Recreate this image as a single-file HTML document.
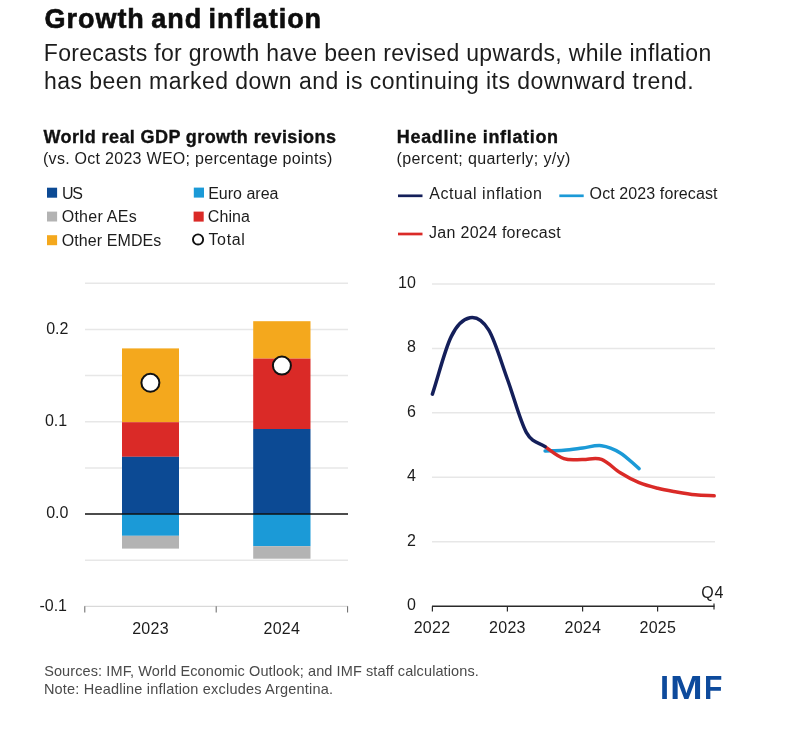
<!DOCTYPE html>
<html lang="en">
<head>
<meta charset="utf-8">
<title>Growth and inflation</title>
<style>
html,body{margin:0;padding:0;background:#fff}
body{width:801px;height:730px;position:relative;overflow:hidden;font-family:"Liberation Sans",sans-serif;color:#1c1c1c}
.t{position:absolute;white-space:nowrap;margin:0;padding:0;line-height:1;font-weight:400}
.ttl{font-weight:700;color:#0d0d0d;-webkit-text-stroke:0.6px #0d0d0d}
.h2{font-weight:700;color:#111;-webkit-text-stroke:0.35px #111}
.foot{color:#4a4a4a}
.logo{font-weight:700;color:#0d4a9c}
.logo span{position:absolute;top:0;display:block;transform-origin:0 0}
svg{position:absolute;left:0;top:0}
svg text{font-family:"Liberation Sans",sans-serif;font-size:16px;fill:#1c1c1c}
</style>
</head>
<body>
<main>
<header>
<h1 class="t ttl" style="left:44.6px;top:5.64px;font-size:27px;letter-spacing:0.95px;word-spacing:-2px">Growth and inflation</h1>
<p class="t sub" style="left:43.8px;top:42.03px;font-size:23px;letter-spacing:0.31px">Forecasts for growth have been revised upwards, while inflation</p>
<p class="t sub" style="left:44px;top:70.03px;font-size:23px;letter-spacing:0.45px">has been marked down and is continuing its downward trend.</p>
</header>

<section>
<h2 class="t h2" style="left:43.5px;top:127.86px;font-size:18px;letter-spacing:0.4px">World real GDP growth revisions</h2>
<p class="t unit" style="left:43px;top:150.66px;font-size:16px;letter-spacing:0.28px">(vs. Oct 2023 WEO; percentage points)</p>
<span class="t lg" style="left:62.0px;top:185.56px;font-size:16px;letter-spacing:-1.2px">US</span>
<span class="t lg" style="left:61.7px;top:209.16px;font-size:16px;letter-spacing:0.26px">Other AEs</span>
<span class="t lg" style="left:61.7px;top:232.96px;font-size:16px;letter-spacing:0.1px">Other EMDEs</span>
<span class="t lg" style="left:208.2px;top:185.56px;font-size:16px;letter-spacing:0px">Euro area</span>
<span class="t lg" style="left:207.8px;top:209.16px;font-size:16px;letter-spacing:0.1px">China</span>
<span class="t lg" style="left:208.4px;top:231.76px;font-size:16px;letter-spacing:0.67px">Total</span>
</section>

<section>
<h2 class="t h2" style="left:396.8px;top:127.86px;font-size:18px;letter-spacing:0.66px">Headline inflation</h2>
<p class="t unit" style="left:396.5px;top:150.66px;font-size:16px;letter-spacing:0.39px">(percent; quarterly; y/y)</p>
<span class="t lg" style="left:429.2px;top:185.96px;font-size:16px;letter-spacing:0.57px">Actual inflation</span>
<span class="t lg" style="left:589.6px;top:185.96px;font-size:16px;letter-spacing:0.1px">Oct 2023 forecast</span>
<span class="t lg" style="left:429.1px;top:224.66px;font-size:16px;letter-spacing:0.28px">Jan 2024 forecast</span>
</section>

<svg width="801" height="730" viewBox="0 0 801 730" role="img" aria-label="Stacked bar chart of GDP growth revisions and line chart of headline inflation">
  <!-- legend swatches -->
  <rect x="47" y="187.7" width="10.1" height="10" fill="#0c4a94"/>
  <rect x="47" y="211.6" width="10.1" height="9.9" fill="#b3b3b3"/>
  <rect x="47" y="235.2" width="10.1" height="10" fill="#f4a81d"/>
  <rect x="193.8" y="187.6" width="10.2" height="10" fill="#1b9ad7"/>
  <rect x="193.6" y="211.6" width="10.1" height="10" fill="#da2a27"/>
  <circle cx="198.05" cy="239.45" r="5.1" fill="#fff" stroke="#111" stroke-width="1.9"/>
  <g fill="none" stroke-width="2.7">
    <path stroke="#141f5a" d="M398 195.8H422.5"/>
    <path stroke="#1b9ad7" d="M559.3 195.8H583.7"/>
    <path stroke="#da2a27" d="M398 234H422.5"/>
  </g>
  <!-- left chart gridlines -->
  <g stroke="#e7e7e7" stroke-width="1.5" fill="none">
    <path d="M85 283.2H348M85 329.4H348M85 375.6H348M85 421.8H348M85 467.9H348M85 560.3H348"/>
    <path d="M84.3 606.4H348.1" stroke="#d9d9d9" stroke-width="1.1"/>
    <path d="M432 284H715M432 348.4H715M432 412.8H715M432 477.3H715M432 541.7H715"/>
  </g>
  <!-- bars 2023 -->
  <rect x="122" y="348.4" width="57" height="73.8" fill="#f4a81d"/>
  <rect x="122" y="422.2" width="57" height="34.6" fill="#da2a27"/>
  <rect x="122" y="456.8" width="57" height="57.2" fill="#0c4a94"/>
  <rect x="122" y="514" width="57" height="21.8" fill="#1b9ad7"/>
  <rect x="122" y="535.8" width="57" height="12.8" fill="#b3b3b3"/>
  <!-- bars 2024 -->
  <rect x="253.2" y="321.2" width="57.3" height="37.4" fill="#f4a81d"/>
  <rect x="253.2" y="358.6" width="57.3" height="70.4" fill="#da2a27"/>
  <rect x="253.2" y="429" width="57.3" height="85" fill="#0c4a94"/>
  <rect x="253.2" y="514" width="57.3" height="32.2" fill="#1b9ad7"/>
  <rect x="253.2" y="546.2" width="57.3" height="12.5" fill="#b3b3b3"/>
  <!-- zero line -->
  <path d="M85 514H348" stroke="#111" stroke-width="1.4"/>
  <!-- ticks -->
  <path d="M84.8 606.3V612.5M216.2 606.3V612.5M347.6 606.3V612.5" stroke="#666" stroke-width="1"/>
  <!-- total markers -->
  <circle cx="150.4" cy="382.8" r="9" fill="#fff" stroke="#111" stroke-width="2"/>
  <circle cx="281.9" cy="365.6" r="9" fill="#fff" stroke="#111" stroke-width="2"/>
  <!-- left labels -->
  <g text-anchor="end">
    <text x="68.4" y="333.9">0.2</text>
    <text x="67.2" y="426.3">0.1</text>
    <text x="68.4" y="518.4">0.0</text>
    <text x="67" y="611.2">-0.1</text>
  </g>
  <g text-anchor="middle" letter-spacing="0.25">
    <text x="150.5" y="634">2023</text>
    <text x="281.8" y="634">2024</text>
  </g>
  <!-- right chart -->
  <g text-anchor="end">
    <text x="415.8" y="288">10</text>
    <text x="415.8" y="352.4">8</text>
    <text x="415.8" y="416.8">6</text>
    <text x="415.8" y="481.3">4</text>
    <text x="415.8" y="545.7">2</text>
    <text x="415.8" y="610.1">0</text>
  </g>
  <path d="M432 606.2H714.5" stroke="#2a2a2a" stroke-width="1.4"/>
  <path d="M432.4 606.2V611.5M507.4 606.2V611.5M582.6 606.2V611.5M657.6 606.2V611.5M714 603.5V609.5" stroke="#2a2a2a" stroke-width="1.2"/>
  <g text-anchor="middle" letter-spacing="0.25">
    <text x="432" y="633.4">2022</text>
    <text x="507.4" y="633.4">2023</text>
    <text x="582.8" y="633.4">2024</text>
    <text x="657.8" y="633.4">2025</text>
    <text x="701.3" y="598.3" text-anchor="start" letter-spacing="0.8">Q4</text>
  </g>
  <g fill="none" stroke-width="3.5" stroke-linecap="round" stroke-linejoin="round">
    <path stroke="#1b9ad7" d="M545.1 451.0C551.4 450.8 557.6 450.8 563.9 450.3C570.2 449.8 576.4 448.8 582.7 448.0C589.0 447.2 595.2 444.9 601.5 445.7C607.7 446.5 614.0 449.1 620.3 452.9C626.5 456.7 632.8 463.4 639.1 468.6"/>
    <path stroke="#da2a27" d="M545.1 446.6C551.4 451.0 557.6 456.5 563.9 458.6C570.2 460.8 576.4 459.4 582.7 459.5C589.0 459.6 595.2 457.2 601.5 459.4C607.7 461.6 614.0 468.9 620.3 472.8C626.5 476.7 632.8 480.1 639.1 482.7C645.3 485.3 651.6 486.8 657.8 488.3C664.1 489.9 670.4 490.9 676.6 492.0C682.9 493.1 689.2 494.2 695.4 494.8C701.7 495.4 707.9 495.5 714.2 495.8"/>
    <path stroke="#141f5a" d="M432.4 394.1C438.7 374.9 444.9 349.3 451.2 336.6C457.4 323.9 463.7 318.9 470.0 317.8C476.2 316.7 482.5 319.9 488.8 330.2C495.0 340.5 501.3 362.5 507.5 379.5C513.8 396.5 520.1 421.1 526.3 432.3C532.6 443.5 538.9 442.2 545.1 446.6"/>
  </g>
</svg>

<footer>
<p class="t foot" style="left:44.2px;top:664.03px;font-size:14.5px;letter-spacing:0.1px">Sources: IMF, World Economic Outlook; and IMF staff calculations.</p>
<p class="t foot" style="left:43.9px;top:681.73px;font-size:14.5px;letter-spacing:0.2px">Note: Headline inflation excludes Argentina.</p>
<div class="t logo" style="left:0;top:672.3px;font-size:32.7px"><span style="left:660.1px">I</span><span style="left:670.0px;transform:scaleX(1.2)">M</span><span style="left:703.6px;transform:scaleX(0.92)">F</span></div>
</footer>
</main>
</body>
</html>
